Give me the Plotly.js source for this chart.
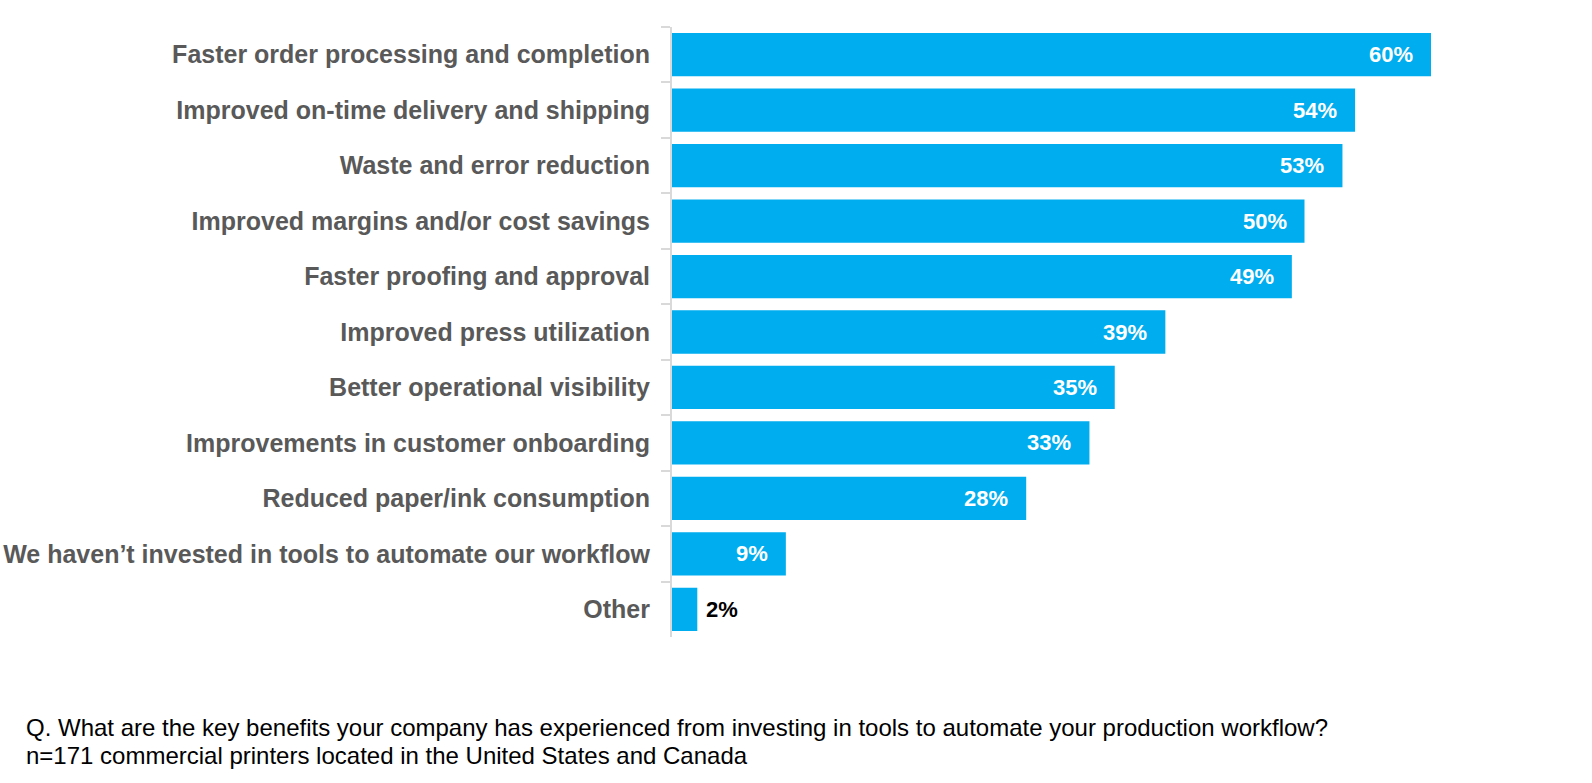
<!DOCTYPE html>
<html>
<head>
<meta charset="utf-8">
<script src="https://cdn.plot.ly/plotly-3.0.1.min.js"></script>
<style>html,body{margin:0;padding:0;background:#fff;}#chart{width:1592px;height:783px;}</style>
</head>
<body>
<div id="chart"></div>
<script>
const categories = [
  "Faster order processing and completion",
  "Improved on-time delivery and shipping",
  "Waste and error reduction",
  "Improved margins and/or cost savings",
  "Faster proofing and approval",
  "Improved press utilization",
  "Better operational visibility",
  "Improvements in customer onboarding",
  "Reduced paper/ink consumption",
  "We haven\u2019t invested in tools to automate our workflow",
  "Other"
];
const values = [60, 54, 53, 50, 49, 39, 35, 33, 28, 9, 2];
const valueLabels = values.map(v => v + "%");
const footnotes = [
  "Q. What are the key benefits your company has experienced from investing in tools to automate your production workflow?",
  "n=171 commercial printers located in the United States and Canada"
];

const W = 1592, H = 783;
const M = {l: 672, r: 0, t: 27, b: 146};
const plotW = W - M.l - M.r, plotH = H - M.t - M.b;
const pxX = px => (px - M.l) / plotW;
const pxY = py => (H - M.b - py) / plotH;

const FONT = "Liberation Sans, Arial, sans-serif";

const annotations = [];
values.forEach((v, i) => {
  const inside = v >= 5;
  annotations.push({
    x: v, y: categories[i], xref: "x", yref: "y",
    text: "<b>" + valueLabels[i] + "</b>",
    showarrow: false,
    xanchor: inside ? "right" : "left",
    xshift: inside ? -16 : 7,
    font: {family: FONT, size: 22, color: inside ? "#ffffff" : "#000000"}
  });
});
footnotes.forEach((t, i) => {
  annotations.push({
    x: pxX(24), y: pxY(i === 0 ? 727 : 755), xref: "paper", yref: "paper",
    text: t, showarrow: false, xanchor: "left", yanchor: "middle",
    font: {family: FONT, size: 24, color: "#000000"}
  });
});

const trace = {
  type: "bar", orientation: "h",
  x: values, y: categories,
  marker: {color: "#00ADEF"},
  hoverinfo: "none"
};

const layout = {
  width: W, height: H,
  margin: M,
  paper_bgcolor: "#ffffff", plot_bgcolor: "#ffffff",
  showlegend: false,
  bargap: 0.22,
  xaxis: {range: [0, plotW / 12.65], visible: false, fixedrange: true},
  yaxis: {
    autorange: "reversed",
    showline: true, linecolor: "#d9d9d9", linewidth: 2,
    ticks: "outside", ticklen: 9, tickcolor: "#d9d9d9", tickwidth: 2,
    tickson: "boundaries",
    ticklabelstandoff: 15,
    showgrid: false, zeroline: false,
    tickfont: {family: FONT, size: 25, color: "#595959", weight: "bold"}
  },
  annotations: annotations
};

Plotly.newPlot("chart", [trace], layout, {staticPlot: true, displayModeBar: false});
</script>
</body>
</html>
